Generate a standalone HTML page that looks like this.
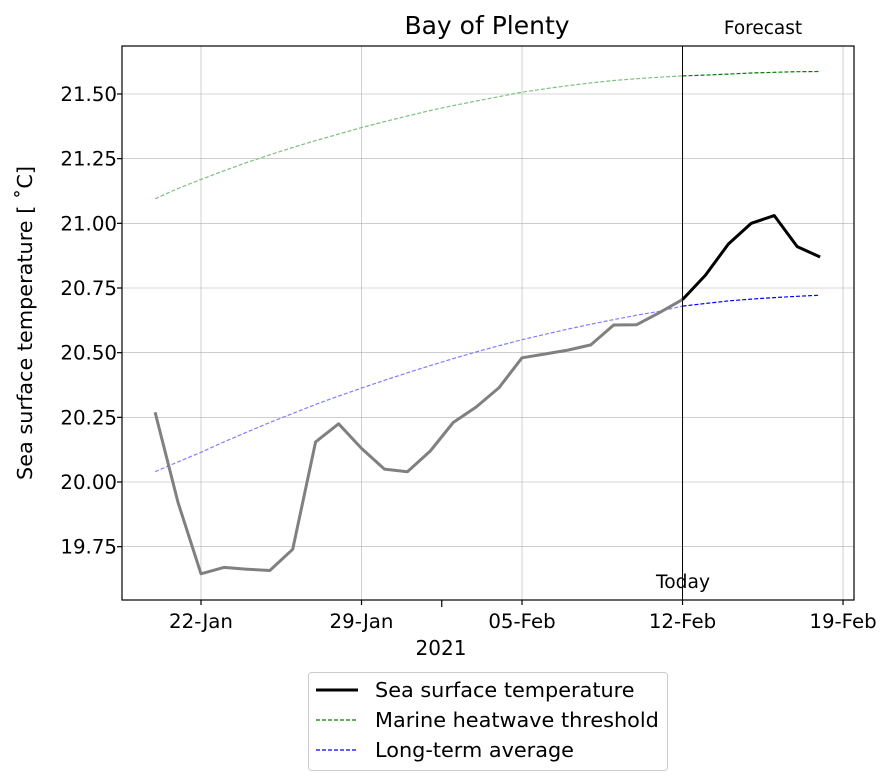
<!DOCTYPE html>
<html><head><meta charset="utf-8"><style>
body{margin:0;background:#fff;}
svg{display:block;font-family:"DejaVu Sans","Liberation Sans",sans-serif;}
</style></head><body>
<svg id="chart" width="894" height="784"></svg>
<script>
const startDay = 20; // 20 Jan 2021 as day index in Jan
const sstObs = [20.27,19.92,19.645,19.67,19.663,19.658,19.74,20.155,20.225,20.13,20.05,20.04,20.12,20.23,20.29,20.365,20.48,20.495,20.51,20.53,20.607,20.608,20.655,20.705];
const sstFc = [20.705,20.80,20.92,21.00,21.03,20.91,20.87];
const threshold = [21.095,21.135,21.17,21.203,21.235,21.265,21.293,21.32,21.345,21.37,21.393,21.415,21.436,21.455,21.473,21.49,21.507,21.52,21.532,21.543,21.552,21.559,21.565,21.57,21.573,21.577,21.581,21.584,21.586,21.587];
const average = [20.04,20.078,20.115,20.155,20.193,20.23,20.265,20.3,20.332,20.363,20.393,20.422,20.45,20.477,20.503,20.527,20.55,20.571,20.591,20.61,20.628,20.645,20.66,20.68,20.69,20.7,20.707,20.713,20.718,20.722];
const todayIdx = 23;
const yTicks = [19.75,20.00,20.25,20.50,20.75,21.00,21.25,21.50];
const xTickDays = [22,29,36,43,50];
const xTickLabels = ["22-Jan","29-Jan","05-Feb","12-Feb","19-Feb"];
const minorTickDays = [32.5];

const NS="http://www.w3.org/2000/svg";
const svg=document.getElementById('chart');
const L=122,R=854,T=46,B=600;
function xs(day){return 201+(day-22)*22.93;}
function ys(v){return 482-(v-20)*258.67;}
function el(tag,attrs,parent){const e=document.createElementNS(NS,tag);for(const k in attrs)e.setAttribute(k,attrs[k]);(parent||svg).appendChild(e);return e;}
function txt(s,attrs){const e=el('text',attrs);e.textContent=s;return e;}

// grid
yTicks.forEach(v=>{const g=el('line',{x1:L,x2:R,y1:ys(v),y2:ys(v),stroke:'#b0b0b0','stroke-width':0.6});

});
xTickDays.forEach(d=>{const g=el('line',{x1:xs(d),x2:xs(d),y1:T,y2:B,stroke:'#b0b0b0','stroke-width':0.6});

});

function poly(vals,offset,color,width,dash,name){
  const pts=vals.map((v,i)=>xs(startDay+offset+i).toFixed(1)+','+ys(v).toFixed(1)).join(' ');
  const p=el('polyline',{points:pts,fill:'none',stroke:color,'stroke-width':width,'stroke-linejoin':'round'});
  if(dash)p.setAttribute('stroke-dasharray',dash);
  
  
}
poly(threshold.slice(0,todayIdx+1),0,'#7fbf7f',1.2,'4,2','threshold-past-line');
poly(threshold.slice(todayIdx),todayIdx,'#008000',1.2,'4,2','threshold-forecast-line');
poly(average.slice(0,todayIdx+1),0,'#7f7fff',1.2,'4,2','average-past-line');
poly(average.slice(todayIdx),todayIdx,'#0000ff',1.2,'4,2','average-forecast-line');
poly(sstObs,0,'#808080',3,null,'sst-observed-line');
poly(sstFc,todayIdx,'#000000',3,null,'sst-forecast-line');

// today line
const tl=el('line',{x1:xs(startDay+todayIdx),x2:xs(startDay+todayIdx),y1:T,y2:B,stroke:'#000','stroke-width':1});


const tt=txt('Today',{x:683,y:588,'font-size':18.7,'text-anchor':'middle'});


const ft=txt('Forecast',{x:763,y:34,'font-size':18.5,'text-anchor':'middle'});



// frame
const fr=el('rect',{x:L,y:T,width:R-L,height:B-T,fill:'none',stroke:'#000','stroke-width':1.2});



// y ticks
yTicks.forEach(v=>{el('line',{x1:L-5,x2:L,y1:ys(v),y2:ys(v),stroke:'#000','stroke-width':1.2});
const t=txt(v.toFixed(2),{x:L-5,y:ys(v)+7,'font-size':19.8,'text-anchor':'end'});

});
// x ticks
xTickDays.forEach((d,i)=>{el('line',{x1:xs(d),x2:xs(d),y1:B,y2:B+5,stroke:'#000','stroke-width':1.2});
const t=txt(xTickLabels[i],{x:xs(d),y:B+28,'font-size':19.8,'text-anchor':'middle'});

});
minorTickDays.forEach(d=>{el('line',{x1:xs(d),x2:xs(d),y1:B,y2:B+7,stroke:'#000','stroke-width':1.2});});

const xt=txt('2021',{x:441,y:655,'font-size':20,'text-anchor':'middle'});


const yt=txt('Sea surface temperature [ ˚C]',{x:0,y:0,'font-size':20.8,'text-anchor':'middle',transform:'translate(32,323) rotate(-90)'});


const ti=txt('Bay of Plenty',{x:487,y:34,'font-size':25,'text-anchor':'middle'});



// legend
const lg=el('g',{});


el('rect',{x:308.5,y:672.5,width:359,height:98,rx:3,fill:'#fff',stroke:'#ccc','stroke-width':1},lg);
const entries=[['Sea surface temperature','#000',3,null],['Marine heatwave threshold','#008000',1.2,'4,2'],['Long-term average','#0000ff',1.2,'4,2']];
entries.forEach((e,i)=>{const y=690+i*30;
const ln=el('line',{x1:316,x2:358,y1:y,y2:y,stroke:e[1],'stroke-width':e[2]},lg);
if(e[3])ln.setAttribute('stroke-dasharray',e[3]);
const t=el('text',{x:375,y:y+7,'font-size':20.8},lg);t.textContent=e[0];

});
</script>
</body></html>
